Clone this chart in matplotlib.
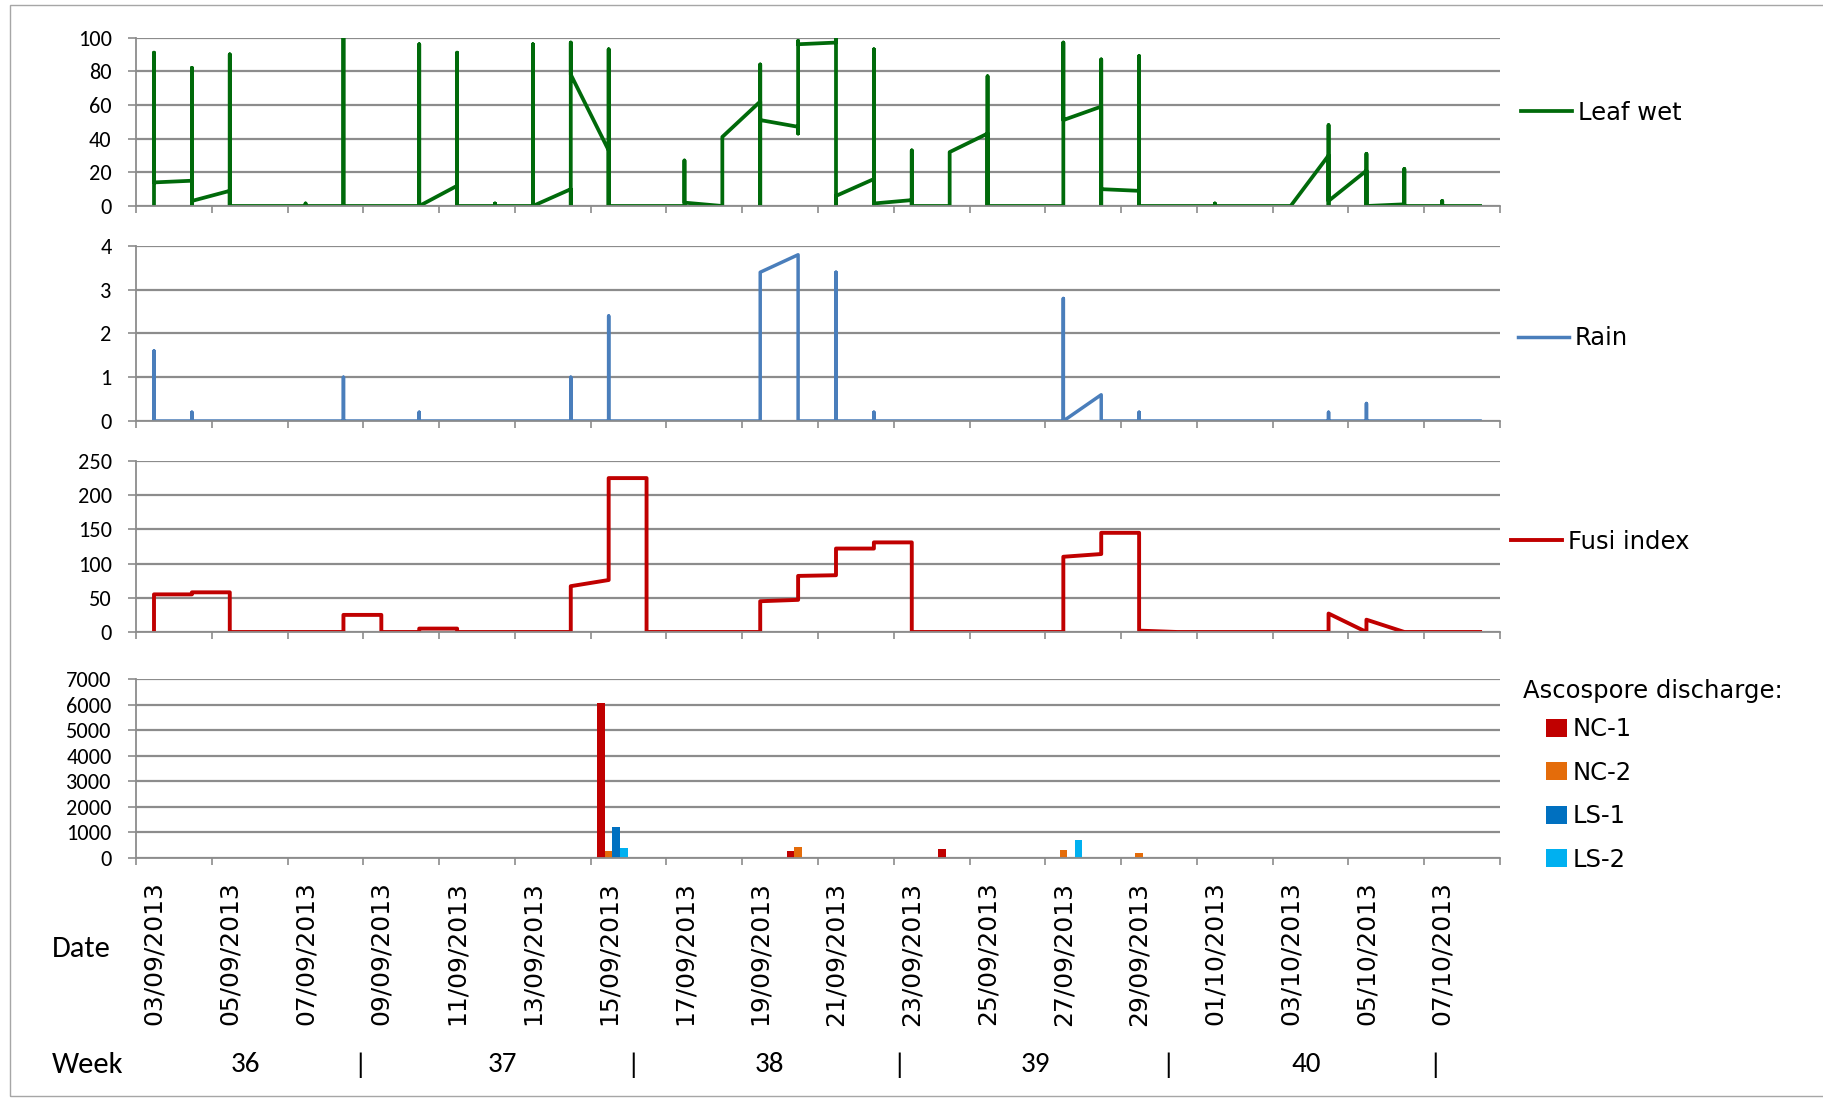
import numpy as np
import matplotlib
matplotlib.use('Agg')
import matplotlib.pyplot as plt
from matplotlib.patches import Rectangle
from matplotlib import transforms

NARROW = ['Carlito', 'DejaVu Sans']
WIDE = ['DejaVu Sans']

# day 0 = 03/09/2013
leaf_day = [0, 0, 0, 1, 1, 1, 1, 2, 2, 2, 2, 4, 4, 4, 5, 5, 5, 7, 7, 7,
            8, 8, 8, 8, 9, 9, 9, 10, 10, 10, 11, 11, 11, 11, 12, 12, 12, 12,
            14, 14, 14, 15, 15, 16, 16, 16, 16, 17, 17, 17, 17, 18, 18, 18, 18,
            19, 19, 19, 19, 20, 20, 20, 20, 21, 21, 22, 22, 22, 22,
            24, 24, 24, 25, 25, 25, 25, 26, 26, 26, 26, 28, 28, 28, 30,
            31, 31, 31, 31, 32, 32, 32, 32, 33, 33, 33, 33, 34, 34, 34, 35]
leaf_val = [0, 91, 14, 15, 0, 82, 3, 9, 0, 90, 0, 0, 1.5, 0, 0, 100, 0, 0, 96, 0,
            12, 0, 91, 0, 0, 1.5, 0, 0, 96, 0, 10, 0, 97, 78, 33, 0, 93, 0,
            0, 27, 2, 0, 41, 62, 0, 84, 51, 47, 43, 98, 96, 97, 99.5, 0, 6,
            16, 0, 93, 1.5, 3.5, 0, 33, 0, 0, 32, 43, 0, 77, 0,
            0, 97, 51, 59, 0, 87, 10, 9, 0, 89, 0, 0, 1.5, 0, 0,
            30, 0, 48, 3, 21, 0, 31, 0, 1, 0, 22, 0, 0, 3, 0, 0]

rain_day = [0, 0, 0, 1, 1, 1, 5, 5, 5, 7, 7, 7, 11, 11, 11, 12, 12, 12,
            16, 16, 17, 17, 18, 18, 18, 19, 19, 19, 24, 24, 24, 25, 25,
            26, 26, 26, 31, 31, 31, 32, 32, 32, 35]
rain_val = [0, 1.6, 0, 0, 0.2, 0, 0, 1.0, 0, 0, 0.2, 0, 0, 1.0, 0, 0, 2.4, 0,
            0, 3.4, 3.8, 0, 0, 3.4, 0, 0, 0.2, 0, 0, 2.8, 0, 0.6, 0,
            0, 0.2, 0, 0, 0.2, 0, 0, 0.4, 0, 0]

fusi_day = [0, 0, 1, 1, 2, 2, 5, 5, 6, 6, 7, 7, 8, 8, 11, 11, 12, 12, 13, 13,
            16, 16, 17, 17, 18, 18, 19, 19, 20, 20, 24, 24, 25, 25, 26, 26, 27,
            31, 31, 32, 32, 33, 35]
fusi_val = [0, 55, 55, 58, 58, 0, 0, 25, 25, 0, 0, 5, 5, 0, 0, 67, 76, 225, 225, 0,
            0, 45, 47, 82, 83, 122, 122, 131, 131, 0, 0, 110, 114, 145, 145, 2, 0,
            0, 27, 0, 18, 0, 0]

asco_day = [12, 17, 21, 24, 26]
asco_series = ['NC-1', 'NC-2', 'LS-1', 'LS-2']
nc1 = [6050, 290, 340, 0, 0]
nc2 = [290, 430, 0, 330, 180]
ls1 = [1200, 0, 0, 0, 0]
ls2 = [380, 0, 0, 720, 0]
asco_colors = ['#C00000', '#E46C0A', '#0070C0', '#00B0F0']

date_labels = ['03/09/2013', '05/09/2013', '07/09/2013', '09/09/2013', '11/09/2013',
               '13/09/2013', '15/09/2013', '17/09/2013', '19/09/2013', '21/09/2013',
               '23/09/2013', '25/09/2013', '27/09/2013', '29/09/2013', '01/10/2013',
               '03/10/2013', '05/10/2013', '07/10/2013']
week_labels = ['36', '|', '37', '|', '38', '|', '39', '|', '40', '|']
week_pos = [2.4, 5.45, 9.2, 12.65, 16.25, 19.65, 23.25, 26.75, 30.4, 33.8]

W, H = 1823, 1098
GRID = '#8c8c8c'
fig = plt.figure(figsize=(W / 100, H / 100), dpi=100)


def panel(top, bottom):
    return fig.add_axes([136 / W, 1 - bottom / H, (1500 - 136) / W, (bottom - top) / H])


def style(ax, ymax, ystep):
    ax.set_xlim(-0.475, 35.525)
    ax.set_ylim(0, ymax)
    ax.set_yticks(np.arange(0, ymax + 1, ystep))
    ax.yaxis.grid(True, color=GRID, lw=1.6)
    ax.set_axisbelow(True)
    for s in ['top', 'right']:
        ax.spines[s].set_visible(False)
    for s in ['left', 'bottom']:
        ax.spines[s].set_color(GRID)
        ax.spines[s].set_linewidth(1.3)
    ax.tick_params(axis='y', length=5.5, width=1.2, color=GRID, labelsize=16, pad=12)
    ax.set_xticks(np.arange(-0.475, 35.6, 2), minor=True)
    ax.tick_params(axis='x', which='minor', length=5, width=1.2, color=GRID)
    ax.set_xticks([])
    for lab in ax.get_yticklabels():
        lab.set_family(NARROW)


ax1 = panel(37.5, 206)
ax2 = panel(246, 421)
ax3 = panel(461, 632)
ax4 = panel(679, 858)

style(ax1, 100, 20)
style(ax2, 4, 1)
style(ax3, 250, 50)
style(ax4, 7000, 1000)

ax1.plot(leaf_day, leaf_val, color='#006A0A', lw=2.7, label='Leaf wet')
ax2.plot(rain_day, rain_val, color='#4A7EBB', lw=2.5, label='Rain')
ax3.plot(fusi_day, fusi_val, color='#C00000', lw=2.8, label='Fusi index')

bw = 0.2
x = np.array(asco_day) + 0.1
for i, (vals, name) in enumerate(zip([nc1, nc2, ls1, ls2], asco_series)):
    ax4.bar(x + (i - 1.5) * bw, vals, width=bw, color=asco_colors[i], label=name)

ax4.set_xticks(np.arange(0, 35, 2))
ax4.set_xticklabels(date_labels, rotation=90, family=WIDE, fontsize=18)
ax4.tick_params(axis='x', which='major', length=0, pad=17)

# legends
leg_kw = dict(frameon=False, loc='center left', borderaxespad=0, borderpad=0,
              handlelength=2.1, handletextpad=0.25, prop={'family': WIDE, 'size': 17.5})
ax1.legend(bbox_to_anchor=(1.0154, 0.553), **leg_kw)
ax2.legend(bbox_to_anchor=(1.0132, 0.474), **leg_kw)
ax3.legend(bbox_to_anchor=(1.008, 0.527), **leg_kw)
ax4.legend(frameon=False, loc='center left', bbox_to_anchor=(1.0337, 0.355),
           borderaxespad=0, borderpad=0, handlelength=0.85, handleheight=0.75,
           handletextpad=0.25, labelspacing=0.8, prop={'family': WIDE, 'size': 17.5})
fig.text(1523 / W, 1 - 691 / H, 'Ascospore discharge:', family=WIDE, fontsize=17.5,
         ha='left', va='center')

# date / week rows
fig.text(81 / W, 1 - 949 / H, 'Date', family=NARROW, fontsize=22, ha='center', va='center')
fig.text(88 / W, 1 - 1065 / H, 'Week', family=NARROW, fontsize=22, ha='center', va='center')
trans = transforms.blended_transform_factory(ax4.transData, fig.transFigure)
for lab, pos in zip(week_labels, week_pos):
    ax4.text(pos, 1 - 1065 / H, lab, transform=trans, family=NARROW, fontsize=21,
             ha='center', va='center', clip_on=False)

fig.add_artist(Rectangle((10 / W, 1 - 1096 / H), 1830 / W, 1091 / H, transform=fig.transFigure,
                         fill=False, ec='#a6a6a6', lw=1))

fig.savefig('out.png', dpi=100)
